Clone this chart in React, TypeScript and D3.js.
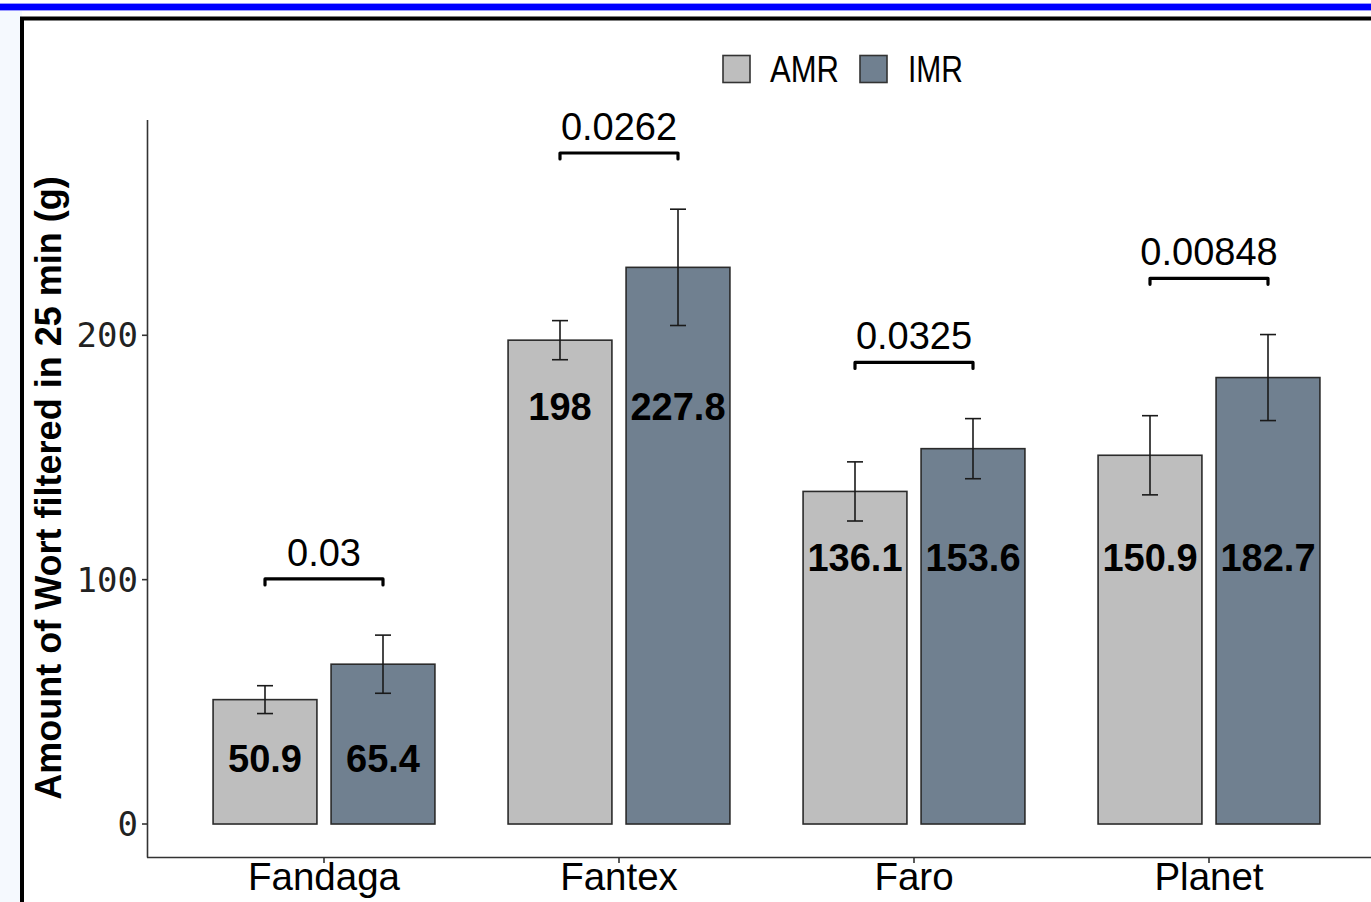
import React from "react";
import * as d3 from "d3";

// Wort filtration by malt and mashing regime
const varieties = ["Fandaga", "Fantex", "Faro", "Planet"];
const regimes = ["AMR", "IMR"];
const amrMean = [50.9, 198, 136.1, 150.9];
const imrMean = [65.4, 227.8, 153.6, 182.7];
const amrSe = [5.7, 8.0, 12.1, 16.2];
const imrSe = [11.9, 23.8, 12.3, 17.6];
const pValues = ["0.03", "0.0262", "0.0325", "0.00848"];
// height (g) where the in-bar value labels sit
const labelAt = [27, 171, 109, 109];
const yTicks = [0, 100, 200];

const W = 1371;
const H = 902;
const fills: Record<string, string> = { AMR: "#bebebe", IMR: "#708090" };
const SANS = "'Liberation Sans', Arial, Helvetica, sans-serif";
const MONO = "'DejaVu Sans Mono', monospace";

export default function App() {
  const x = d3
    .scaleBand<string>()
    .domain(varieties)
    .range([147, 1386])
    .paddingInner(0.2)
    .paddingOuter(0.2);
  const xSub = d3.scaleBand<string>().domain(regimes).range([0, x.bandwidth()]);
  const barW = xSub.bandwidth() * 0.88;
  const y = d3.scaleLinear().domain([-13.5, 288.1]).range([857, 120]);

  const rows = varieties.map((v, i) => ({
    variety: v,
    bars: [
      { regime: "AMR", mean: amrMean[i], se: amrSe[i] },
      { regime: "IMR", mean: imrMean[i], se: imrSe[i] },
    ],
    p: pValues[i],
    labelY: labelAt[i],
  }));

  const cx = (v: string, r: string) => (x(v) as number) + (xSub(r) as number) + xSub.bandwidth() / 2;

  return (
    <>
      <style>{`body{margin:0}`}</style>
      <svg width={W} height={H} style={{ display: "block" }}>
        <rect x={0} y={0} width={W} height={H} fill="#ffffff" />
        <rect x={0} y={10} width={22} height={H} fill="#f5f9fe" />
        <rect x={0} y={3} width={W} height={8} fill="#9a9aff" />
        <rect x={0} y={4} width={W} height={6} fill="#0000ff" />
        <rect x={22} y={18.5} width={2000} height={2000} fill="#ffffff" stroke="#000" strokeWidth={4} />

        {/* legend */}
        {regimes.map((r, i) => {
          const lx = 723 + i * 137;
          return (
            <g key={r}>
              <rect x={lx} y={55.5} width={27} height={27} fill={fills[r]} stroke="#333" strokeWidth={1.6} />
              <text
                x={lx + 47 + i * 1}
                y={82}
                fontFamily={SANS}
                fontSize={37}
                textLength={r === "AMR" ? 69 : 55}
                lengthAdjust="spacingAndGlyphs"
                fill="#000"
              >
                {r}
              </text>
            </g>
          );
        })}

        {/* axes */}
        <line x1={147.5} x2={147.5} y1={120} y2={857.5} stroke="#333" strokeWidth={1.6} />
        <line x1={147} x2={W} y1={857.5} y2={857.5} stroke="#333" strokeWidth={1.6} />
        {yTicks.map((t) => (
          <g key={t}>
            <line x1={142} x2={147.5} y1={y(t)} y2={y(t)} stroke="#333" strokeWidth={1.6} />
            <text x={138} y={y(t) + 12} textAnchor="end" fontFamily={MONO} fontSize={34} fill="#222">
              {t}
            </text>
          </g>
        ))}
        {varieties.map((v) => {
          const c = (x(v) as number) + x.bandwidth() / 2;
          return (
            <g key={v}>
              <line x1={c} x2={c} y1={857.5} y2={863} stroke="#333" strokeWidth={1.6} />
              <text x={c} y={890} textAnchor="middle" fontFamily={SANS} fontSize={38.5} fill="#000">
                {v}
              </text>
            </g>
          );
        })}
        <text
          transform={`translate(61,488) rotate(-90)`}
          textAnchor="middle"
          fontFamily={SANS}
          fontWeight="bold"
          fontSize={36}
          fill="#000"
        >
          Amount of Wort filtered in 25 min (g)
        </text>

        {/* bars, error bars, labels */}
        {rows.map((row) => (
          <g key={row.variety}>
            {row.bars.map((b) => {
              const c = cx(row.variety, b.regime);
              return (
                <g key={b.regime}>
                  <rect
                    x={c - barW / 2}
                    y={y(b.mean)}
                    width={barW}
                    height={y(0) - y(b.mean)}
                    fill={fills[b.regime]}
                    stroke="#2b2b2b"
                    strokeWidth={1.6}
                  />
                  <g stroke="#1a1a1a" strokeWidth={1.6}>
                    <line x1={c} x2={c} y1={y(b.mean + b.se)} y2={y(b.mean - b.se)} />
                    <line x1={c - 8} x2={c + 8} y1={y(b.mean + b.se)} y2={y(b.mean + b.se)} />
                    <line x1={c - 8} x2={c + 8} y1={y(b.mean - b.se)} y2={y(b.mean - b.se)} />
                  </g>
                  <text
                    x={c}
                    y={y(row.labelY) + 13.6}
                    textAnchor="middle"
                    fontFamily={SANS}
                    fontWeight="bold"
                    fontSize={38}
                    fill="#000"
                  >
                    {b.mean}
                  </text>
                </g>
              );
            })}
            {(() => {
              const top = d3.max(row.bars, (b) => b.mean + b.se) as number;
              const by = y(top + 23);
              const x1 = cx(row.variety, "AMR");
              const x2 = cx(row.variety, "IMR");
              return (
                <g>
                  <path
                    d={`M${x1},${by + 6}V${by}H${x2}V${by + 6}`}
                    fill="none"
                    stroke="#000"
                    strokeWidth={3.2}
                    strokeLinejoin="round"
                    strokeLinecap="round"
                  />
                  <text
                    x={(x1 + x2) / 2}
                    y={by - 13}
                    textAnchor="middle"
                    fontFamily={SANS}
                    fontSize={38}
                    fill="#000"
                  >
                    {row.p}
                  </text>
                </g>
              );
            })()}
          </g>
        ))}
      </svg>
    </>
  );
}
